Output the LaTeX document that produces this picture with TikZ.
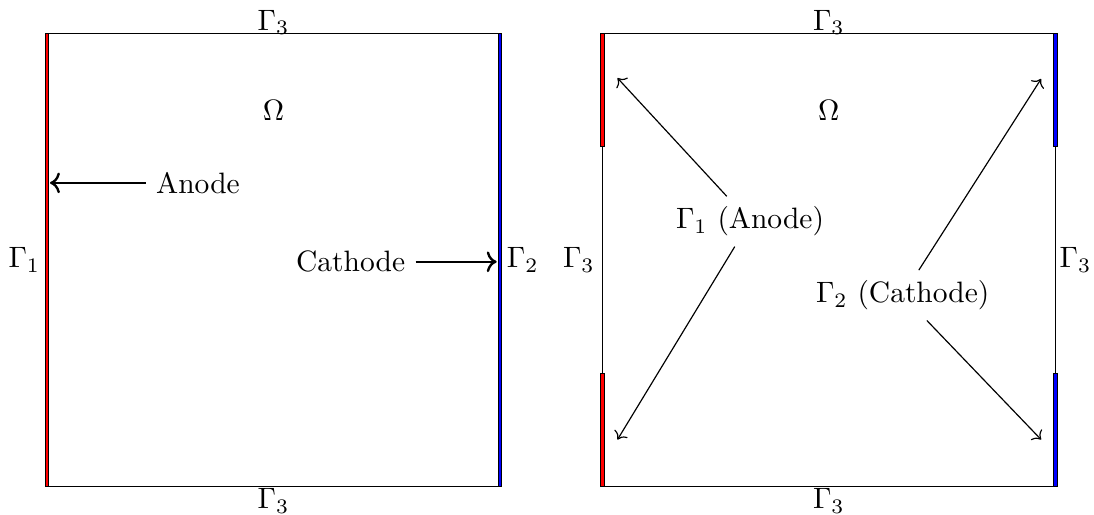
\documentclass[tikz,border=0pt]{standalone}
\usetikzlibrary{arrows.meta,positioning}

\begin{document}
\begin{tikzpicture}[
  region/.style={draw,line width=0.5pt},
  anodebar/.style={draw=black,fill=red,line width=0.3pt},
  cathodebar/.style={draw=black,fill=blue,line width=0.3pt},
  flow/.style={->,thick},
  pointer/.style={->}
]
  \useasboundingbox (-0.56,-0.334) rectangle (12.48,5.80);

  % left domain
  \draw[region] (0,0) rectangle (5.4,5.4);
  \draw[anodebar] (-0.02,0) rectangle (0.02,5.4);
  \draw[cathodebar] (5.38,0) rectangle (5.42,5.4);
  \node (topL) at (2.7,5.53) {$\Gamma_3$};
  \node (botL) at (2.7,-0.17) {$\Gamma_3$};
  \node (g1L) at (-0.27,2.7) {$\Gamma_1$};
  \node (g2L) at (5.67,2.7) {$\Gamma_2$};
  \node (omegaL) at (2.7,4.48) {$\Omega$};
  \node (anode) at (1.80,3.62) {Anode};
  \node (cathode) at (3.62,2.68) {Cathode};
  \coordinate (anodetip) at (0.036,3.62);
  \coordinate (cathodetip) at (5.36,2.68);
  \draw[flow] (anode) -- (anodetip);
  \draw[flow] (cathode) -- (cathodetip);

  % right domain
  \draw[region] (6.62,0) rectangle (12.02,5.4);
  \draw[anodebar] (6.60,4.05) rectangle (6.64,5.4);
  \draw[anodebar] (6.60,0) rectangle (6.64,1.35);
  \draw[cathodebar] (12.00,4.05) rectangle (12.04,5.4);
  \draw[cathodebar] (12.00,0) rectangle (12.04,1.35);
  \node (topR) at (9.32,5.53) {$\Gamma_3$};
  \node (botR) at (9.32,-0.17) {$\Gamma_3$};
  \node (leftR) at (6.34,2.7) {$\Gamma_3$};
  \node (rightR) at (12.26,2.7) {$\Gamma_3$};
  \node (omegaR) at (9.32,4.48) {$\Omega$};
  \node (g1R) at (8.38,3.16) {$\Gamma_1$ (Anode)};
  \node (g2R) at (10.20,2.28) {$\Gamma_2$ (Cathode)};
  \coordinate (a1) at (6.80,4.87);
  \coordinate (a2) at (6.80,0.56);
  \coordinate (c1) at (11.85,4.86);
  \coordinate (c2) at (11.85,0.56);
  \draw[pointer] (g1R) -- (a1);
  \draw[pointer] (g1R) -- (a2);
  \draw[pointer] (g2R) -- (c1);
  \draw[pointer] (g2R) -- (c2);
\end{tikzpicture}
\end{document}
